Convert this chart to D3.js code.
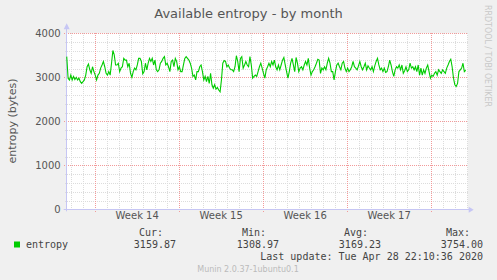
<!DOCTYPE html>
<html><head><meta charset="utf-8">
<script src="https://cdn.jsdelivr.net/npm/d3@7"></script>
<style>body{margin:0;background:#f0f0f0}svg{display:block}</style>
</head><body><svg id="c" width="497" height="280"></svg>
<script>
const title = "Available entropy - by month";
const yLabel = "entropy (bytes)";
const seriesName = "entropy";
const yTicks = [0, 1000, 2000, 3000, 4000];
const weekLabels = ["Week 14", "Week 15", "Week 16", "Week 17"];
const weekStarts = ["2020-03-30", "2020-04-06", "2020-04-13", "2020-04-20"];
const viewStart = "2020-03-27T16:00:00Z";
const viewEnd = "2020-04-30T02:00:00Z";
const dataStart = "2020-03-27T16:05:00Z";
const dataEnd = "2020-04-29T22:00:00Z";
const entropy = [
3470,2980,2940,3050,2940,3020,2950,3000,2940,2980,2900,2860,2900,2940,3050,3240,3300,3170,3090,3240,
3130,3050,2940,3050,3090,3210,3280,3360,3240,3090,3050,3130,3050,3320,3610,3510,3280,3280,3320,3130,
3210,3240,3430,3390,3390,3240,3320,3090,3000,3130,3210,3170,3280,3430,3430,3360,3080,3130,3320,3170,
3320,3430,3360,3430,3280,3390,3170,3130,3170,3320,3360,3430,3470,3280,3320,3240,3130,3360,3390,3240,
3430,3360,3170,3240,3130,3130,3280,3430,3470,3430,3390,3320,3210,3020,3050,2940,3130,3130,3240,3280,
3130,2940,3020,2900,3020,2860,3090,2830,2750,2830,2730,2770,2710,2670,2940,3320,3380,3360,3240,3280,
3210,3170,3170,3130,3240,3490,3360,3130,3430,3470,3210,3280,3360,3280,3240,3470,3280,2980,
3020,3050,3020,3130,3240,3320,3210,3090,2980,3170,3240,3320,3240,3360,3280,3390,3240,3170,3280,3170,
3280,3390,3450,3280,3130,2980,3130,3320,3430,3280,3130,3450,3320,3130,3210,3240,3170,3280,3360,3280,
3430,3210,3050,3130,3170,3240,3320,3410,3390,3090,3210,3170,3240,3170,3320,3430,3320,3130,3130,2940,
3130,3280,3320,3240,3170,3320,3360,3210,3130,3210,3130,3170,3240,3360,3240,3210,3170,3260,3360,3240,
3170,3240,3320,3170,3260,3210,3170,3240,3130,3260,3360,3430,3280,3170,3210,3130,3210,3110,3130,3240,
3390,3280,3130,3020,3170,3240,3210,3280,3170,3280,3090,3150,3240,3130,3170,3320,3210,3240,3170,3240,
3130,3280,3050,3210,3050,3170,3090,3210,3280,3130,2980,3050,3020,3090,3130,3050,3170,3130,3090,3170,
3130,3090,3210,3280,3360,3410,3240,2980,2830,2790,2860,3130,3170,3210,3320,3130,3160
];
const statLabels = ["Cur:", "Min:", "Avg:", "Max:"];
const statValues = ["3159.87", "1308.97", "3169.23", "3754.00"];
const lastUpdate = "Last update: Tue Apr 28 22:10:36 2020";
const footer = "Munin 2.0.37-1ubuntu0.1";
const sideText = "RRDTOOL / TOBI OETIKER";

const svg = d3.select("#c");
const L = 66.7, R = 467.7, T = 33.3, B = 209.3;
const x = d3.scaleUtc().domain([new Date(viewStart), new Date(viewEnd)]).range([L, R]);
const y = d3.scaleLinear().domain([0, 4000]).range([B, T]);
const t0 = +new Date(dataStart), t1 = +new Date(dataEnd);
const pts = entropy.map((v, i) => ({t: new Date(t0 + i * (t1 - t0) / (entropy.length - 1)), v}));

svg.append("rect").attr("width", 497).attr("height", 280).attr("fill", "#f0f0f0");
svg.append("rect").attr("x", L).attr("y", T).attr("width", R - L).attr("height", B - T).attr("fill", "#fff");

const grid = svg.append("g");
const mondays = weekStarts.concat(["2020-04-27"]).map(s => new Date(s + "T00:00:00Z"));
const mondaySet = new Set(mondays.map(d => +d));
// minor grid
const days = x.ticks(d3.utcDay.every(1)).filter(d => !mondaySet.has(+d));
grid.append("g").selectAll("line").data(days).join("line")
  .attr("x1", d => Math.round(x(d)) + 0.5).attr("x2", d => Math.round(x(d)) + 0.5)
  .attr("y1", Math.round(T)).attr("y2", Math.round(B) + 2)
  .attr("stroke", "#dcdcdc").attr("stroke-dasharray", "1,1");
const minorY = d3.range(200, 4001, 200).filter(v => v % 1000 !== 0);
grid.append("g").selectAll("line").data(minorY).join("line")
  .attr("x1", Math.round(L) - 2).attr("x2", Math.round(R))
  .attr("y1", d => Math.round(y(d)) + 0.5).attr("y2", d => Math.round(y(d)) + 0.5)
  .attr("stroke", "#dcdcdc").attr("stroke-dasharray", "1,1");
// major grid
grid.append("g").selectAll("line").data(mondays).join("line")
  .attr("x1", d => Math.round(x(d)) + 0.5).attr("x2", d => Math.round(x(d)) + 0.5)
  .attr("y1", Math.round(T)).attr("y2", Math.round(B) + 3)
  .attr("stroke", "#f29a9a").attr("stroke-dasharray", "1,1");
grid.append("g").selectAll("line").data(yTicks.slice(1)).join("line")
  .attr("x1", Math.round(L) - 3).attr("x2", Math.round(R))
  .attr("y1", d => Math.round(y(d)) + 0.5).attr("y2", d => Math.round(y(d)) + 0.5)
  .attr("stroke", "#f29a9a").attr("stroke-dasharray", "1,1");

// axes lines + arrows
const axc = "#c6c6f4";
svg.append("line").attr("x1", 66.5).attr("x2", 66.5).attr("y1", B + 2).attr("y2", T - 5).attr("stroke", axc);
svg.append("line").attr("x1", L - 3).attr("x2", R + 2).attr("y1", 209.5).attr("y2", 209.5).attr("stroke", axc);
svg.append("path").attr("d", `M${L - 3},${T - 4} L${L + 3},${T - 4} L${L},${T - 10} Z`).attr("fill", axc);
svg.append("path").attr("d", `M${R + 1},${B - 2.5} L${R + 1},${B + 3.5} L${R + 6},${B + 0.5} Z`).attr("fill", axc);

// line
svg.append("path").datum(pts)
  .attr("d", d3.line().x(d => x(d.t)).y(d => y(d.v)))
  .attr("fill", "none").attr("stroke", "#00cc00").attr("stroke-width", 1.1);

// y axis labels
const yAxis = svg.append("g").attr("transform", `translate(${L - 6},0)`)
  .call(d3.axisLeft(y).tickValues(yTicks).tickSize(0).tickPadding(0).tickFormat(d3.format("d")));
yAxis.select(".domain").remove();
yAxis.selectAll("text").attr("font-family", "DejaVu Sans").attr("font-size", 10).attr("fill", "#555");

// x axis labels
const mids = weekStarts.map(s => new Date(+new Date(s + "T00:00:00Z") + 3.5 * 864e5));
const xAxis = svg.append("g").attr("transform", `translate(0,${B + 3})`)
  .call(d3.axisBottom(x).tickValues(mids).tickSize(0).tickPadding(0).tickFormat((d, i) => weekLabels[i]));
xAxis.select(".domain").remove();
xAxis.selectAll("text").attr("font-family", "DejaVu Sans").attr("font-size", 10).attr("fill", "#555");

// title
svg.append("text").attr("x", 248.5).attr("y", 18).attr("text-anchor", "middle")
  .attr("font-family", "DejaVu Sans").attr("font-size", 13).attr("fill", "#555").text(title);
// y label
svg.append("text").attr("transform", "translate(16,121) rotate(-90)").attr("text-anchor", "middle")
  .attr("font-family", "DejaVu Sans").attr("font-size", 11).attr("fill", "#555").text(yLabel);
// side text
svg.append("text").attr("transform", "translate(485,5) rotate(90)")
  .attr("font-family", "DejaVu Sans").attr("font-size", 8).attr("fill", "#c8c8c8")
  .attr("textLength", 102).attr("lengthAdjust", "spacingAndGlyphs").text(sideText);

// legend
const mono = "DejaVu Sans Mono";
svg.append("rect").attr("x", 14).attr("y", 241.5).attr("width", 6).attr("height", 6).attr("fill", "#00cc00");
svg.append("text").attr("x", 26).attr("y", 248).attr("font-family", mono).attr("font-size", 10).attr("fill", "#444").text(seriesName);
const labRight = [163, 266, 368, 470];
const valRight = [176, 279, 381, 483];
svg.append("g").selectAll("text").data(statLabels).join("text")
  .attr("x", (d, i) => labRight[i]).attr("y", 236).attr("text-anchor", "end")
  .attr("font-family", mono).attr("font-size", 10).attr("fill", "#444").text(d => d);
svg.append("g").selectAll("text").data(statValues).join("text")
  .attr("x", (d, i) => valRight[i]).attr("y", 248).attr("text-anchor", "end")
  .attr("font-family", mono).attr("font-size", 10).attr("fill", "#444").text(d => d);
svg.append("text").attr("x", 483).attr("y", 260).attr("text-anchor", "end")
  .attr("font-family", mono).attr("font-size", 10).attr("fill", "#444").text(lastUpdate);
svg.append("text").attr("x", 248).attr("y", 272).attr("text-anchor", "middle")
  .attr("font-family", "DejaVu Sans").attr("font-size", 8).attr("fill", "#bbb").text(footer);
</script></body></html>
